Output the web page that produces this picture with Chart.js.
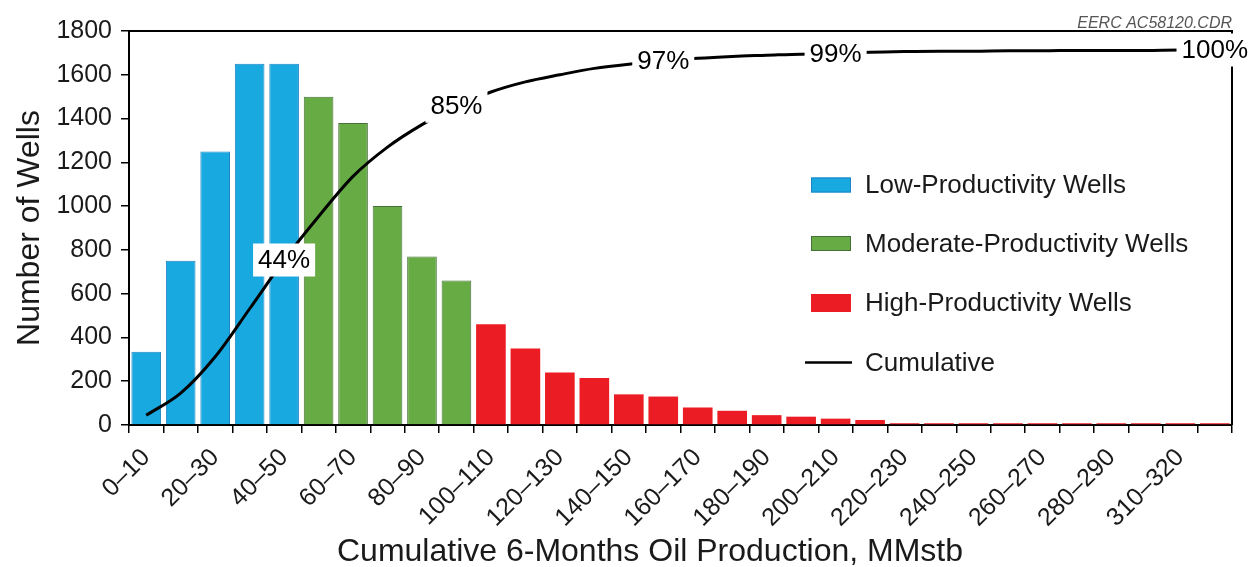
<!DOCTYPE html>
<html>
<head>
<meta charset="utf-8">
<title>Cumulative 6-Months Oil Production</title>
<script src="https://cdn.jsdelivr.net/npm/chart.js@4.4.1/dist/chart.umd.min.js"></script>
<style>
  html, body { margin: 0; padding: 0; background: #ffffff; }
  #wrap { width: 1256px; height: 567px; position: relative; }
</style>
</head>
<body>
<div id="wrap"><canvas id="chart"></canvas></div>
<script>
// Production bins (MMstb), one per bar
const binLabels = [
  '0–10', '10–20', '20–30', '30–40', '40–50', '50–60', '60–70', '70–80',
  '80–90', '90–100', '100–110', '110–120', '120–130', '130–140', '140–150', '150–160',
  '160–170', '170–180', '180–190', '190–200', '200–210', '210–220', '220–230', '230–240',
  '240–250', '250–260', '260–270', '270–280', '280–290', '290–300', '310–320', '320–330'
];

// Number of wells per bin, split by productivity class
const lowWells = [335, 750, 1250, 1650, 1650];
const moderateWells = [1500, 1380, 1000, 770, 660];
const highWells = [460, 350, 240, 215, 140, 130, 80, 65, 45, 38, 29, 23,
                   8, 8, 8, 8, 8, 8, 8, 8, 8, 8];

// Cumulative share of wells (%) at each bin
const cumulativePct = [2.6, 8.5, 18.2, 31.0, 44, 55.6, 66.3, 74.1, 80.1, 85,
                       88.8, 91.5, 93.4, 95.1, 96.2, 97, 97.8, 98.3, 98.6, 98.9,
                       99, 99.4, 99.6, 99.7, 99.7, 99.8, 99.8, 99.9, 99.9, 99.9,
                       100, 100];
// Bins whose cumulative value is written on the curve
const cumulativeLabelAt = [4, 9, 15, 20, 31];

// Left axis tick values
const yTickValues = [0, 200, 400, 600, 800, 1000, 1200, 1400, 1600, 1800];

const seriesNames = ['Low-Productivity Wells', 'Moderate-Productivity Wells',
                     'High-Productivity Wells', 'Cumulative'];

const FONT = "'Liberation Sans', Arial, Helvetica, sans-serif";
const INK = '#1a1a1a';

// place each class's counts at its own bins
function placeAt(values, start) {
  return binLabels.map((_, i) => (i >= start && i < start + values.length) ? values[i - start] : null);
}
const lowData = placeAt(lowWells, 0);
const moderateData = placeAt(moderateWells, lowWells.length);
const highData = placeAt(highWells, lowWells.length + moderateWells.length);

// frame on the top and right of the plot, plus the file tag
const framePlugin = {
  id: 'frame',
  afterDatasetsDraw(chart) {
    const { ctx, chartArea: a } = chart;
    ctx.save();
    ctx.strokeStyle = '#000';
    ctx.lineWidth = 2;
    ctx.beginPath();
    ctx.moveTo(a.left, a.top);
    ctx.lineTo(a.right, a.top);
    ctx.lineTo(a.right, a.bottom);
    ctx.stroke();
    ctx.fillStyle = '#555';
    ctx.font = 'italic 16px ' + FONT;
    ctx.textAlign = 'right';
    ctx.textBaseline = 'alphabetic';
    ctx.fillText('EERC AC58120.CDR', a.right, a.top - 3);
    ctx.restore();
  }
};

// boxed percentages written on the cumulative curve
const curveLabelPlugin = {
  id: 'curveLabels',
  afterDraw(chart) {
    const { ctx } = chart;
    const meta = chart.getDatasetMeta(3);
    ctx.save();
    ctx.font = '26px ' + FONT;
    ctx.textAlign = 'center';
    ctx.textBaseline = 'middle';
    cumulativeLabelAt.forEach(i => {
      const pt = meta.data[i];
      const text = cumulativePct[i] + '%';
      const w = ctx.measureText(text).width + 10;
      const h = 33;
      ctx.fillStyle = '#fff';
      ctx.fillRect(pt.x - w / 2, pt.y - h / 2, w, h);
      ctx.fillStyle = '#000';
      ctx.fillText(text, pt.x, pt.y + 1);
    });
    ctx.restore();
  }
};

// legend inside the plot and the horizontal axis title
const legendPlugin = {
  id: 'insideLegend',
  afterDraw(chart) {
    const { ctx } = chart;
    const rows = [185, 243.5, 303, 362.5];
    const swH = [15, 15, 18];
    ctx.save();
    ctx.font = '26px ' + FONT;
    ctx.textBaseline = 'middle';
    ctx.textAlign = 'left';
    chart.data.datasets.forEach((ds, k) => {
      const y = rows[k];
      if (ds.type === 'line') {
        ctx.strokeStyle = ds.borderColor;
        ctx.lineWidth = 2.5;
        ctx.beginPath();
        ctx.moveTo(805, y);
        ctx.lineTo(852, y);
        ctx.stroke();
      } else {
        const h = swH[k];
        ctx.fillStyle = ds.backgroundColor;
        ctx.fillRect(811, y - h / 2, 40, h);
        if (ds.borderWidth) {
          ctx.strokeStyle = ds.borderColor;
          ctx.lineWidth = 1;
          ctx.strokeRect(811.5, y - h / 2 + 0.5, 39, h - 1);
        }
      }
      ctx.fillStyle = INK;
      ctx.fillText(ds.label, 865, y + 1);
    });
    ctx.font = '32px ' + FONT;
    ctx.textAlign = 'center';
    ctx.fillText('Cumulative 6-Months Oil Production, MMstb', 650, 552);
    ctx.restore();
  }
};

new Chart(document.getElementById('chart'), {
  data: {
    labels: binLabels,
    datasets: [
      { type: 'bar', label: seriesNames[0], data: lowData,
        backgroundColor: '#19a9e1', borderColor: '#1d84c4', borderWidth: 1, order: 2 },
      { type: 'bar', label: seriesNames[1], data: moderateData,
        backgroundColor: '#67ab45', borderColor: '#46703a', borderWidth: 1, order: 2 },
      { type: 'bar', label: seriesNames[2], data: highData,
        backgroundColor: '#ec1c24', borderColor: '#ec1c24', borderWidth: 0, order: 2 },
      { type: 'line', label: seriesNames[3], data: cumulativePct, yAxisID: 'y1',
        borderColor: '#000', borderWidth: 3, pointRadius: 0,
        cubicInterpolationMode: 'monotone', fill: false, order: 0 }
    ]
  },
  options: {
    responsive: true,
    maintainAspectRatio: false,
    animation: false,
    events: [],
    datasets: {
      bar: { grouped: false, categoryPercentage: 1, barPercentage: 0.86, skipNull: true }
    },
    layout: { padding: { left: 0, right: 24, top: 31, bottom: 0 } },
    plugins: { legend: { display: false }, tooltip: { enabled: false } },
    scales: {
      x: {
        type: 'category',
        offset: true,
        grid: { display: true, drawOnChartArea: false, drawTicks: true, tickLength: 8,
                color: '#000', lineWidth: 1.5, offset: true },
        border: { display: true, color: '#000', width: 2 },
        ticks: {
          autoSkip: false, minRotation: 45, maxRotation: 45, padding: 10,
          color: INK, font: { size: 25, family: FONT },
          callback: (v, i) => (i % 2 === 0 ? binLabels[i] : '')
        },
        afterFit: s => { s.height = 142; }
      },
      y: {
        min: 0, max: 1800,
        afterBuildTicks: s => { s.ticks = yTickValues.map(v => ({ value: v })); },
        grid: { display: true, drawOnChartArea: false, drawTicks: true, tickLength: 8,
                color: '#000', lineWidth: 1.5 },
        border: { display: true, color: '#000', width: 2 },
        ticks: { padding: 9, color: INK, font: { size: 25, family: FONT },
                 callback: v => String(v) },
        title: { display: true, text: 'Number of Wells', color: INK,
                 font: { size: 32, family: FONT }, padding: { top: 11, bottom: 0 } },
        afterFit: s => { s.width = 129; }
      },
      y1: { display: false, min: 0, max: 105.07 }
    }
  },
  plugins: [framePlugin, curveLabelPlugin, legendPlugin]
});
</script>
</body>
</html>
